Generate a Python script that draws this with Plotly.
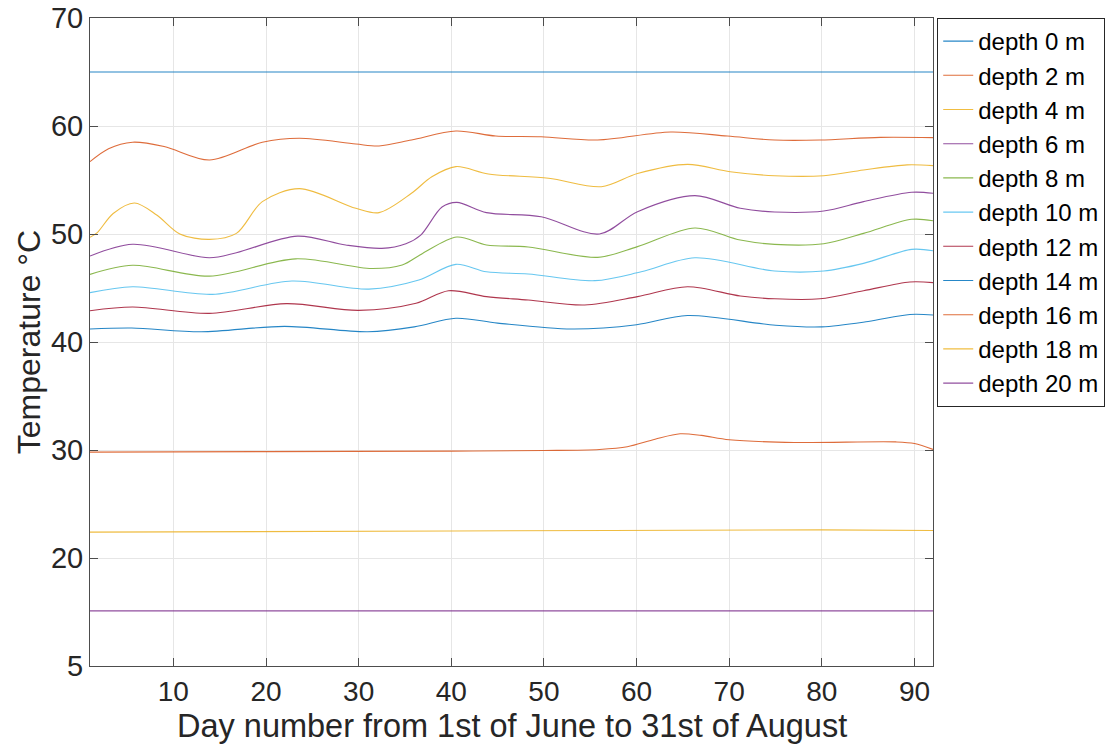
import plotly.graph_objects as go

# Soil temperature by depth over summer (day 1 = 1st of June)
series_names = ["depth 0 m", "depth 2 m", "depth 4 m", "depth 6 m", "depth 8 m",
                "depth 10 m", "depth 12 m", "depth 14 m", "depth 16 m",
                "depth 18 m", "depth 20 m"]

days_d0 = [1, 92]
temp_d0 = [65.0, 65.0]

days_d2 = [1, 3, 5.6, 9, 13.9, 19.6, 23.6, 29.7, 32.2, 35.7, 40.5, 44.8, 49.7, 55.8, 63.7, 69.8, 74.9, 79.8, 86.3, 92]
temp_d2 = [56.7, 57.9, 58.5, 58.1, 56.85, 58.5, 58.86, 58.33, 58.15, 58.7, 59.54, 59.07, 59.0, 58.7, 59.44, 59.07, 58.7, 58.7, 58.95, 58.92]

days_d4 = [1, 1.75, 3.5, 5.8, 8.2, 10.7, 13.9, 16.8, 19.6, 23.6, 29.7, 32.2, 35.7, 37.9, 40.5, 44.0, 50.5, 56.2, 60.1, 65.5, 70.1, 74.9, 80.2, 84.5, 89.2, 92]
temp_d4 = [49.7, 50.1, 51.9, 52.87, 51.76, 50.0, 49.5, 50.06, 53.0, 54.2, 52.38, 51.98, 53.77, 55.3, 56.24, 55.56, 55.16, 54.38, 55.6, 56.45, 55.77, 55.4, 55.4, 55.93, 56.4, 56.33]

days_d6 = [1, 5.6, 13.9, 16.8, 23.4, 28.6, 32.5, 35.1, 36.7, 39.0, 40.6, 43.8, 49.7, 56.0, 60.1, 66.3, 71.2, 74.9, 80.2, 84.5, 89.7, 92]
temp_d6 = [47.96, 49.05, 47.8, 48.27, 49.8, 48.98, 48.67, 49.1, 49.9, 52.5, 52.93, 51.98, 51.6, 50.0, 52.07, 53.55, 52.38, 52.04, 52.13, 53.0, 53.86, 53.77]

days_d8 = [1, 5.6, 13.9, 23.2, 31.4, 34.7, 36.9, 40.6, 43.8, 48.3, 55.8, 60.1, 66.3, 71.2, 74.9, 80.2, 84.5, 89.7, 92]
temp_d8 = [46.26, 47.1, 46.1, 47.7, 46.8, 47.13, 48.2, 49.72, 48.98, 48.8, 47.84, 48.83, 50.56, 49.44, 49.04, 49.1, 50.06, 51.36, 51.23]

days_d10 = [1, 5.6, 14.2, 22.8, 31.1, 36.5, 40.5, 43.8, 48.3, 55.5, 60.5, 66.3, 74.9, 80.2, 84.5, 89.7, 92]
temp_d10 = [44.57, 45.12, 44.41, 45.65, 44.9, 45.74, 47.19, 46.5, 46.3, 45.68, 46.5, 47.8, 46.57, 46.57, 47.28, 48.58, 48.45]

days_d12 = [1, 5.6, 13.9, 22.2, 30.0, 36.2, 39.7, 43.8, 48.3, 54.4, 60.1, 65.5, 71.2, 74.9, 79.8, 84.5, 89.5, 92]
temp_d12 = [42.9, 43.24, 42.65, 43.55, 42.93, 43.58, 44.75, 44.2, 43.89, 43.43, 44.2, 45.12, 44.26, 44.0, 44.0, 44.75, 45.56, 45.5]

days_d14 = [1, 5.5, 13, 22, 31, 36, 40.5, 45, 53, 60, 65.5, 75, 80, 85, 89.5, 92]
temp_d14 = [41.2, 41.3, 40.95, 41.45, 40.95, 41.4, 42.2, 41.75, 41.2, 41.6, 42.45, 41.55, 41.4, 41.9, 42.55, 42.5]

days_d16 = [1, 20, 40, 50, 56, 59, 62, 64.7, 67, 70, 77, 88, 90, 92]
temp_d16 = [29.8, 29.85, 29.9, 29.95, 30.05, 30.3, 31.0, 31.5, 31.35, 30.95, 30.7, 30.75, 30.6, 30.05]

days_d18 = [1, 40, 80, 92]
temp_d18 = [22.4, 22.5, 22.6, 22.55]

days_d20 = [1, 92]
temp_d20 = [15.1, 15.1]

day_ticks = [10, 20, 30, 40, 50, 60, 70, 80, 90]
temp_tick_vals = [10, 20, 30, 40, 50, 60, 70]
temp_tick_text = ["5", "20", "30", "40", "50", "60", "70"]

palette = ["#0072BD", "#D95319", "#EDB120", "#7E2F8E", "#77AC30", "#4DBEEE", "#A2142F"]

all_days = [days_d0, days_d2, days_d4, days_d6, days_d8, days_d10,
            days_d12, days_d14, days_d16, days_d18, days_d20]
all_temps = [temp_d0, temp_d2, temp_d4, temp_d6, temp_d8, temp_d10,
             temp_d12, temp_d14, temp_d16, temp_d18, temp_d20]

fig = go.Figure()
for i, (name, d, t) in enumerate(zip(series_names, all_days, all_temps)):
    fig.add_trace(go.Scatter(
        x=d, y=t, name=name, mode="lines", opacity=0.85,
        line=dict(color=palette[i % len(palette)], width=1.1,
                  shape="spline", smoothing=0.9),
    ))

axis_color = "#4d4d4d"
text_color = "#262626"
font_family = "Arial, Liberation Sans, sans-serif"

fig.update_layout(
    width=1120, height=753,
    margin=dict(l=90, r=187, t=18, b=87),
    paper_bgcolor="white", plot_bgcolor="white",
    font=dict(family=font_family, color=text_color, size=26),
    legend=dict(
        x=1.005, y=1.0, xanchor="left", yanchor="top",
        bgcolor="white", bordercolor=text_color, borderwidth=1,
        font=dict(size=24, color="black"),
        tracegroupgap=0, itemwidth=30,
    ),
    showlegend=True,
)

# x-axis title placed as an annotation for finer vertical control
fig.add_annotation(
    text="Day number from 1st of June to 31st of August",
    xref="paper", yref="paper", x=0.5, y=-0.093,
    xanchor="center", yanchor="middle", showarrow=False,
    font=dict(size=32.5, color=text_color, family=font_family),
)

fig.update_xaxes(
    range=[1, 92], tickvals=day_ticks, automargin=False,
    showgrid=True, gridcolor="#e6e6e6", gridwidth=1,
    showline=True, linecolor=axis_color, linewidth=1, mirror="ticks",
    ticks="inside", ticklen=8, tickcolor=axis_color,
    tickfont=dict(size=28, color=text_color),
    zeroline=False,
)
fig.update_yaxes(
    range=[10, 70], tickvals=temp_tick_vals, ticktext=temp_tick_text,
    automargin=False,
    showgrid=True, gridcolor="#e6e6e6", gridwidth=1,
    showline=True, linecolor=axis_color, linewidth=1, mirror="ticks",
    ticks="inside", ticklen=8, tickcolor=axis_color,
    tickfont=dict(size=29, color=text_color),
    title=dict(text="Temperature °C", font=dict(size=32, color=text_color), standoff=0),
    zeroline=False,
)

fig.write_html("out.html")
